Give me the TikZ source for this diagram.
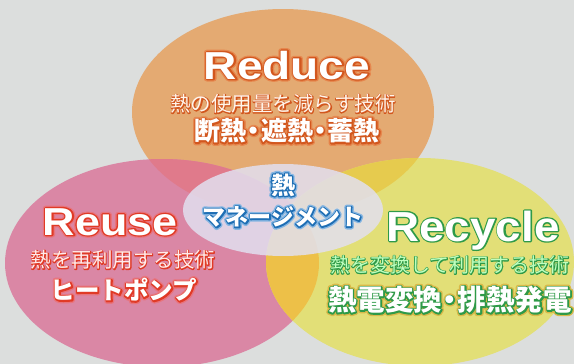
\documentclass[tikz,border=0pt]{standalone}
\usepackage{fontspec}
\setmainfont{Liberation Sans}
\newfontfamily\jp{Noto Sans CJK JP}
\usepackage{graphicx}
\definecolor{bg}{HTML}{DCDEDD}
\definecolor{corange}{HTML}{E4AA72}
\definecolor{cpink}{HTML}{DA87A5}
\definecolor{cyellow}{HTML}{E2DF77}
\definecolor{cpo}{HTML}{E07A8B}
\definecolor{coy}{HTML}{E6CB4E}
\definecolor{cpy}{HTML}{EDC048}
\definecolor{cpoy}{HTML}{EAB456}
\definecolor{ccenter}{HTML}{E2E0F0}
\definecolor{redor}{HTML}{D2571E}
\definecolor{redorglow}{HTML}{E6874E}
\definecolor{redre}{HTML}{E03A26}
\definecolor{redreglow}{HTML}{E8747E}
\definecolor{grn}{HTML}{2E9A48}
\definecolor{grnglow}{HTML}{D9B848}
\definecolor{blu}{HTML}{1E6EB4}
\definecolor{bluglow}{HTML}{86B6E2}
% stroked copy of a text: colour, stroke width (bp), text
\newcommand\strk[3]{\rlap{\color{#1}\special{pdf:literal direct 1 Tr #2 w 1 j 1 J}#3\special{pdf:literal direct 0 Tr 0.4 w}}}
% outlined text: outline colour, width, fill colour, text
\newcommand\txo[4]{\strk{#1}{#2}{#4}{\color{#3}#4}}
% glow + outline: glow colour, glow width, outline colour, outline width, fill colour, text
\newcommand\txg[6]{\strk{#1}{#2}{#6}\strk{#3}{#4}{#6}{\color{#5}#6}}
% narrow middle dot
\newcommand\nd{\kern-0.22em・\kern-0.22em}
\tikzset{
  lbl/.style={inner sep=0pt, outer sep=0pt},
}
\begin{document}
\begin{tikzpicture}[x=1pt,y=-1pt]
\useasboundingbox (0,0) rectangle (574,364);
\fill[bg] (0,0) rectangle (574,364);
% three circles
\fill[corange] (283,112) ellipse [x radius=151, y radius=103];
\fill[cpink] (162,263) ellipse [x radius=157, y radius=104];
\fill[cyellow] (420,262) ellipse [x radius=154, y radius=104];
\begin{scope}
  \clip (283,112) ellipse [x radius=151, y radius=103];
  \fill[cpo] (162,263) ellipse [x radius=157, y radius=104];
  \fill[coy] (420,262) ellipse [x radius=154, y radius=104];
\end{scope}
\begin{scope}
  \clip (162,263) ellipse [x radius=157, y radius=104];
  \fill[cpy] (420,262) ellipse [x radius=154, y radius=104];
  \clip (283,112) ellipse [x radius=151, y radius=103];
  \fill[cpoy] (420,262) ellipse [x radius=154, y radius=104];
\end{scope}
% centre
\fill[ccenter, opacity=.85] (283,210) ellipse [x radius=100, y radius=46];

% Reduce
\node[lbl, anchor=base] (reduce) at (287,79)
  {\scalebox{1.18}[1]{\fontsize{39}{41}\selectfont\bfseries\txg{redorglow}{5}{redor}{2.6}{white}{Reduce}}};
\node[lbl] (reducesub) at (283,104)
  {\fontsize{20.5}{22}\selectfont\jp\txo{redor}{1.6}{white!92!orange}{熱の使用量を減らす技術}};
\node[lbl] (reducetech) at (287,131)
  {\fontsize{26}{28}\selectfont\jp\bfseries\txg{redorglow}{5.4}{redor}{2.6}{white}{断熱\nd 遮熱\nd 蓄熱}};
% Reuse
\node[lbl, anchor=base] (reuse) at (110,235)
  {\scalebox{1.15}[1]{\fontsize{39}{41}\selectfont\bfseries\txg{redreglow}{5}{redre}{2.6}{white}{Reuse}}};
\node[lbl] (reusesub) at (123,260)
  {\fontsize{20.5}{22}\selectfont\jp\txo{redre}{1.6}{white!92!red}{熱を再利用する技術}};
\node[lbl] (reusetech) at (124,290)
  {\fontsize{24.5}{26}\selectfont\jp\bfseries\txg{redreglow}{5.4}{redre}{2.6}{white}{ヒートポンプ}};
% Recycle
\node[lbl, anchor=base] (recycle) at (473,241)
  {\scalebox{1.09}[1]{\fontsize{42}{44}\selectfont\bfseries\txo{grn}{2.6}{white}{Recycle}}};
\node[lbl, anchor=west] (recyclesub) at (330,265)
  {\fontsize{20}{22}\selectfont\jp\txo{grn}{1.6}{white!75!green}{熱を変換して利用する技術}};
\node[lbl, anchor=west] (recycletech) at (328,300)
  {\fontsize{28.5}{30}\selectfont\jp\bfseries\txg{grnglow}{5.4}{grn}{2.6}{white}{熱電変換\nd 排熱発電}};
% centre text
\node[lbl] (heat) at (283,185)
  {\fontsize{24}{26}\selectfont\jp\bfseries\txg{bluglow}{5.4}{blu}{2.6}{white}{熱}};
\node[lbl] (mgmt) at (283,217)
  {\fontsize{23}{25}\selectfont\jp\bfseries\txg{bluglow}{5.4}{blu}{2.6}{white}{マネージメント}};
\end{tikzpicture}
\end{document}
